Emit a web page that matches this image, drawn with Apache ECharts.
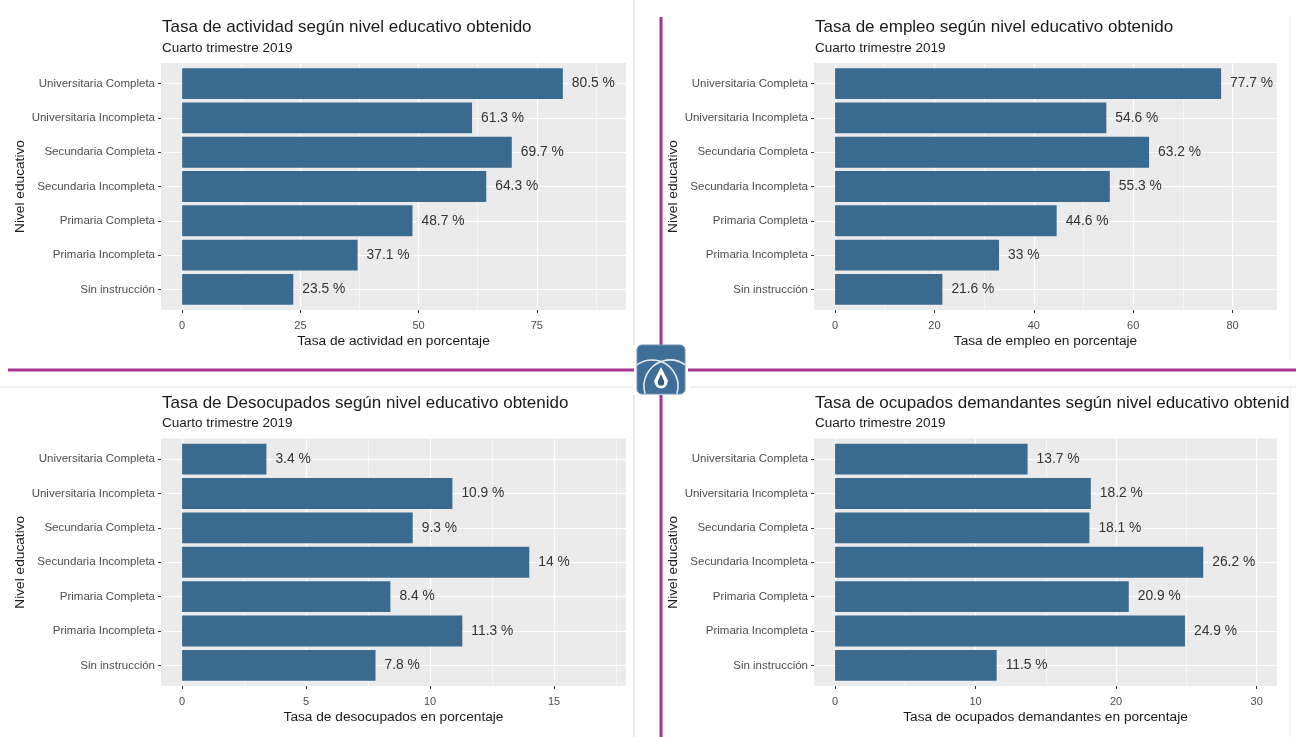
<!DOCTYPE html>
<html>
<head>
<meta charset="utf-8">
<script src="https://cdn.jsdelivr.net/npm/echarts@6/dist/echarts.min.js"></script>
<style>
  html, body { margin: 0; padding: 0; background: #fff; }
  #chart { width: 1296px; height: 737px; }
</style>
</head>
<body>
<div id="chart"></div>
<script>
// categorias (de arriba hacia abajo)
const niveles = ['Universitaria Completa', 'Universitaria Incompleta', 'Secundaria Completa',
  'Secundaria Incompleta', 'Primaria Completa', 'Primaria Incompleta', 'Sin instrucción']

const actividad = [80.5, 61.3, 69.7, 64.3, 48.7, 37.1, 23.5]
const empleo = [77.7, 54.6, 63.2, 55.3, 44.6, 33, 21.6]
const desocupados = [3.4, 10.9, 9.3, 14, 8.4, 11.3, 7.8]
const demandantes = [13.7, 18.2, 18.1, 26.2, 20.9, 24.9, 11.5]

const ticksActividad = [0, 25, 50, 75]
const ticksEmpleo = [0, 20, 40, 60, 80]
const ticksDesocupados = [0, 5, 10, 15]
const ticksDemandantes = [0, 10, 20, 30]

const minorActividad = [12.5, 37.5, 62.5, 87.5]
const minorEmpleo = [10, 30, 50, 70]
const minorDesocupados = [2.5, 7.5, 12.5, 17.5]
const minorDemandantes = [5, 15, 25]

const subtitulo = 'Cuarto trimestre 2019'
const nombreY = 'Nivel educativo'

const FONT = '"Liberation Sans", Arial, sans-serif'
const BAR = '#3B6A8F'
const PURPLE = '#A3348F'

const panels = [
  { title: 'Tasa de actividad según nivel educativo obtenido', xName: 'Tasa de actividad en porcentaje',
    data: actividad, ticks: ticksActividad, minor: minorActividad, min: -4.47, max: 93.85,
    x0: 161, x1: 626, y0: 63, y1: 310 },
  { title: 'Tasa de empleo según nivel educativo obtenido', xName: 'Tasa de empleo en porcentaje',
    data: empleo, ticks: ticksEmpleo, minor: minorEmpleo, min: -4.24, max: 88.95,
    x0: 814, x1: 1277, y0: 63, y1: 310 },
  { title: 'Tasa de Desocupados según nivel educativo obtenido', xName: 'Tasa de desocupados en porcentaje',
    data: desocupados, ticks: ticksDesocupados, minor: minorDesocupados, min: -0.85, max: 17.9,
    x0: 161, x1: 626, y0: 438.5, y1: 686 },
  { title: 'Tasa de ocupados demandantes según nivel educativo obtenido', xName: 'Tasa de ocupados demandantes en porcentaje',
    data: demandantes, ticks: ticksDemandantes, minor: minorDemandantes, min: -1.5, max: 31.45,
    x0: 814, x1: 1277, y0: 438.5, y1: 686 }
]

const grid = [], xAxis = [], yAxis = [], series = [], title = []

panels.forEach((p, i) => {
  const w = p.x1 - p.x0
  const h = p.y1 - p.y0
  const u = h / 7.2  // ggplot: 0.6 de margen en eje discreto
  const gBg = grid.length
  grid.push({ left: p.x0, top: p.y0, width: w, height: h, show: true,
    backgroundColor: '#EBEBEB', borderWidth: 0 })
  const gFg = grid.length
  grid.push({ left: p.x0, top: p.y0 + 0.1 * u, width: w, height: 7 * u })

  title.push({
    text: p.title, subtext: subtitulo, left: p.x0 + 1, top: p.y0 - 45, itemGap: 3, padding: 0,
    textStyle: { fontFamily: FONT, fontSize: 17, fontWeight: 'normal', color: '#1A1A1A', lineHeight: 19 },
    subtextStyle: { fontFamily: FONT, fontSize: 13.5, color: '#1A1A1A', lineHeight: 16 }
  })

  // eje x mayor (etiquetas + grilla mayor)
  xAxis.push({
    gridIndex: gBg, type: 'value', min: p.min, max: p.max, position: 'bottom',
    axisLine: { show: false, onZero: false },
    axisTick: { show: true, customValues: p.ticks, length: 3, lineStyle: { color: '#333', width: 1 } },
    axisLabel: { customValues: p.ticks, color: '#4D4D4D', fontFamily: FONT, fontSize: 11, margin: 10 },
    splitLine: { show: true, lineStyle: { color: '#FFFFFF', width: 1.2 } },
    name: p.xName, nameLocation: 'middle', nameGap: 24,
    nameTextStyle: { fontFamily: FONT, fontSize: 13.7, color: '#1A1A1A' }
  })
  // grilla menor
  xAxis.push({
    gridIndex: gBg, type: 'value', min: p.min, max: p.max, position: 'bottom',
    axisLine: { show: false, onZero: false },
    axisTick: { show: false, customValues: p.minor },
    axisLabel: { show: false, customValues: p.minor },
    splitLine: { show: true, lineStyle: { color: '#FFFFFF', width: 0.6 } }
  })
  yAxis.push({
    gridIndex: gBg, type: 'value', inverse: true, min: -0.6, max: 6.6, position: 'left',
    axisLine: { show: false, onZero: false },
    axisTick: { show: true, customValues: [0, 1, 2, 3, 4, 5, 6], length: 3, lineStyle: { color: '#333', width: 1 } },
    axisLabel: { customValues: [0, 1, 2, 3, 4, 5, 6], color: '#4D4D4D', fontFamily: FONT, fontSize: 11.5, margin: 6,
      formatter: v => niveles[Math.round(v)] },
    splitLine: { show: true, lineStyle: { color: '#FFFFFF', width: 1.2 } },
    name: nombreY, nameLocation: 'middle', nameRotate: 90, nameGap: 134,
    nameTextStyle: { fontFamily: FONT, fontSize: 13.7, color: '#1A1A1A' }
  })

  // ejes de datos
  const xData = xAxis.length
  xAxis.push({ gridIndex: gFg, type: 'value', min: p.min, max: p.max, show: false, splitLine: { show: false } })
  const yData = yAxis.length
  yAxis.push({ gridIndex: gFg, type: 'category', data: niveles, inverse: true, show: false })

  series.push({
    type: 'bar', xAxisIndex: xData, yAxisIndex: yData, data: p.data,
    barCategoryGap: '10%',
    itemStyle: { color: BAR },
    label: { show: true, position: 'right', distance: 9, formatter: d => d.value + ' %',
      fontFamily: FONT, fontSize: 13.8, color: '#333' },
    silent: true, animation: false
  })
})

// separadores, bordes de las imagenes y logo
const lineG = (x1, y1, x2, y2, color, width) => ({
  type: 'line', shape: { x1, y1, x2, y2 }, style: { stroke: color, lineWidth: width }, z: 100
})
const graphic = [
  // recorte del titulo de la ultima imagen
  { type: 'rect', shape: { x: 1290, y: 388, width: 6, height: 40 }, style: { fill: '#FFFFFF' }, z: 99 },
  lineG(634, 0, 634, 345, '#D4D4D4', 1),
  lineG(634, 395, 634, 737, '#D4D4D4', 1),
  lineG(0, 387, 632, 387, '#E2E2E2', 1),
  lineG(690, 387, 1296, 387, '#E2E2E2', 1),
  lineG(1290, 15, 1290, 360, '#EEEEEE', 1),
  lineG(1290, 388, 1290, 737, '#EEEEEE', 1),
  lineG(8, 370, 634, 370, PURPLE, 3),
  lineG(688, 370, 1296, 370, PURPLE, 3),
  lineG(661, 17, 661, 345, PURPLE, 3),
  lineG(661, 395, 661, 737, PURPLE, 3),
  { type: 'rect', shape: { x: 637, y: 345, width: 48, height: 49, r: 5 },
    style: { fill: '#3F6E98', stroke: '#6F93B5', lineWidth: 1 }, z: 101 },
  { type: 'arc', shape: { cx: 652, cy: 386, r: 26, startAngle: -2.2, endAngle: 0.3, clockwise: true },
    style: { stroke: '#E8EEF4', lineWidth: 1.5, fill: null }, z: 102 },
  { type: 'arc', shape: { cx: 670, cy: 386, r: 26, startAngle: 2.84, endAngle: 5.34, clockwise: true },
    style: { stroke: '#E8EEF4', lineWidth: 1.5, fill: null }, z: 102 },
  { type: 'polygon', shape: { points: [[661, 367], [668, 381], [661, 388], [654, 381]] },
    style: { fill: '#FFFFFF' }, z: 103 },
  { type: 'circle', shape: { cx: 661, cy: 382, r: 6.5 }, style: { fill: '#FFFFFF' }, z: 103 },
  { type: 'circle', shape: { cx: 661, cy: 382.5, r: 3.2 }, style: { fill: '#2E5A84' }, z: 104 },
  { type: 'polygon', shape: { points: [[661, 374], [664, 381], [658, 381]] },
    style: { fill: '#2E5A84' }, z: 104 }
]

const chart = echarts.init(document.getElementById('chart'), null, { renderer: 'canvas' })
chart.setOption({
  animation: false,
  backgroundColor: '#FFFFFF',
  title, grid, xAxis, yAxis, series, graphic
})
</script>
</body>
</html>
